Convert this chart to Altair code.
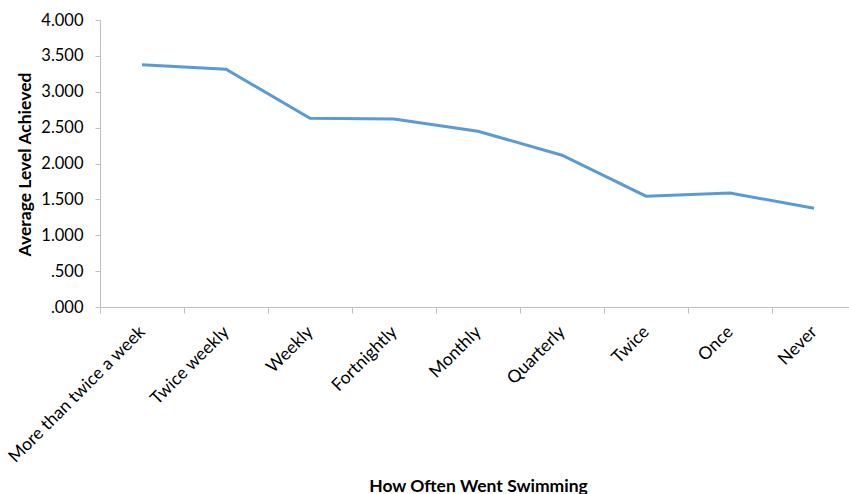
import altair as alt
import pandas as pd

categories = ["More than twice a week", "Twice weekly", "Weekly", "Fortnightly",
              "Monthly", "Quarterly", "Twice", "Once", "Never"]
values = [3.375, 3.315, 2.63, 2.62, 2.45, 2.115, 1.545, 1.59, 1.375]
y_ticks = [0, 0.5, 1, 1.5, 2, 2.5, 3, 3.5, 4]

df = pd.DataFrame({"freq": categories, "level": values})

FONT = "Lato"
GRAY = "#BFBFBF"

chart = alt.Chart(df).mark_line(color="#5B9BD5", strokeWidth=3).encode(
    x=alt.X(
        "freq:N",
        sort=categories,
        scale=alt.Scale(type="band", range=[0, 756], paddingInner=0, paddingOuter=0),
        axis=alt.Axis(
            title="How Often Went Swimming",
            titleFont=FONT, titleFontSize=17.5, titleFontWeight="bold", titleColor="#000000",
            titleY=184, titleBaseline="alphabetic",
            labelFont=FONT, labelFontSize=17.5, labelColor="#000000",
            labelAngle=-45, labelAlign="right", labelBaseline="middle",
            labelPadding=16, labelOverlap=False, labelLimit=400,
            tickBand="extent", tickSize=6, tickColor=GRAY, domainColor=GRAY,
            grid=False,
        ),
    ),
    y=alt.Y(
        "level:Q",
        scale=alt.Scale(domain=[0, 4], nice=False, zero=True),
        axis=alt.Axis(
            title="Average Level Achieved",
            titleFont=FONT, titleFontSize=17.5, titleFontWeight="bold", titleColor="#000000",
            titleX=-70, titleY=144, titleAngle=-90, titleAlign="center", titleBaseline="alphabetic",
            values=y_ticks,
            labelExpr="datum.value < 1 ? replace(format(datum.value, '.3f'), '0.', '.') : format(datum.value, '.3f')",
            labelFont=FONT, labelFontSize=16.5, labelColor="#000000", labelPadding=12,
            tickSize=5, tickColor=GRAY, domainColor=GRAY, grid=False,
        ),
    ),
).properties(
    width=749,
    height=287,
    autosize=alt.AutoSizeParams(type="none"),
    padding={"left": 100, "top": 20, "right": 0, "bottom": 187},
).configure_view(stroke=None)

chart.save("out.html", embed_options={"renderer": "svg", "actions": False})
